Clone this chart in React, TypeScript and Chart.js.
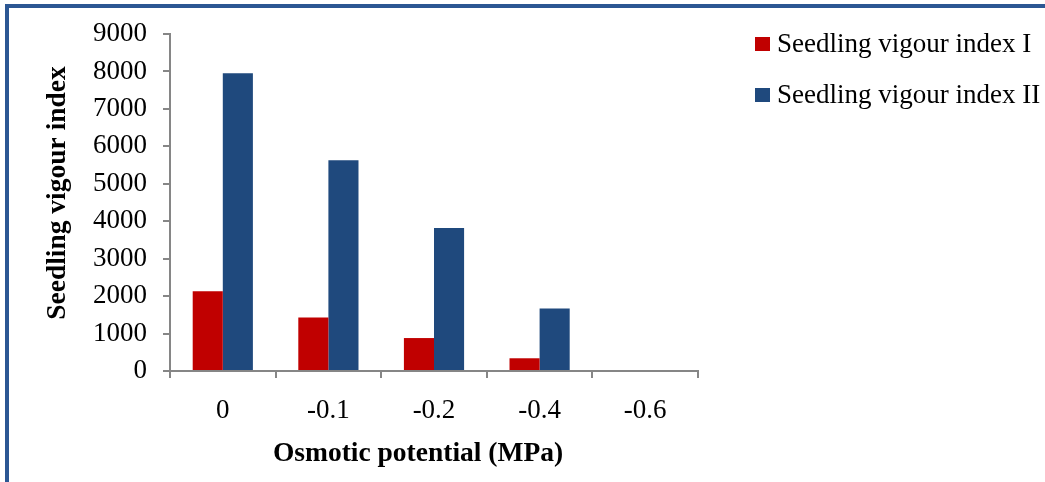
import React, { useEffect, useRef } from "react";
import { Chart, registerables } from "chart.js";

Chart.register(...registerables);

const categories = ["0", "-0.1", "-0.2", "-0.4", "-0.6"];
const seriesNames = ["Seedling vigour index I", "Seedling vigour index II"];
const vigourIndexI = [2130, 1430, 880, 340, 0];
const vigourIndexII = [7950, 5630, 3820, 1670, 0];
const yTicks = [0, 1000, 2000, 3000, 4000, 5000, 6000, 7000, 8000, 9000];
const xTitle = "Osmotic potential (MPa)";
const yTitle = "Seedling vigour index";

const RED = "#C00000";
const BLUE = "#1F497D";
const AXIS = "#868686";
const FONT = "'Liberation Serif', 'Times New Roman', serif";

const legendAndTitlesPlugin = {
  id: "sideLegendTitles",
  afterDraw(chart: any) {
    const ctx = chart.ctx;
    ctx.save();
    chart.data.datasets.forEach((ds: any, i: number) => {
      const cy = 44 + i * 51;
      ctx.fillStyle = ds.backgroundColor;
      ctx.fillRect(755, cy - 7, 15, 14);
      ctx.fillStyle = "#000";
      ctx.font = `27px ${FONT}`;
      ctx.textBaseline = "middle";
      ctx.textAlign = "left";
      ctx.fillText(ds.label, 777, cy + 1);
    });
    ctx.font = `bold 27.5px ${FONT}`;
    ctx.fillStyle = "#000";
    ctx.textAlign = "center";
    ctx.textBaseline = "middle";
    ctx.fillText(xTitle, 418, 454);
    ctx.translate(58, 193);
    ctx.rotate(-Math.PI / 2);
    ctx.fillText(yTitle, 0, 0);
    ctx.restore();
  },
};

export default function App() {
  const ref = useRef<HTMLCanvasElement>(null);
  useEffect(() => {
    if (!ref.current) return;
    const chart = new Chart(ref.current, {
      type: "bar",
      data: {
        labels: categories,
        datasets: [
          { label: seriesNames[0], data: vigourIndexI, backgroundColor: RED },
          { label: seriesNames[1], data: vigourIndexII, backgroundColor: BLUE },
        ],
      },
      plugins: [legendAndTitlesPlugin],
      options: {
        responsive: false,
        animation: false,
        devicePixelRatio: 1,
        layout: { padding: { left: 0, top: 34, right: 347, bottom: 0 } },
        datasets: { bar: { categoryPercentage: 0.57, barPercentage: 1.0 } },
        plugins: { legend: { display: false }, tooltip: { enabled: false } },
        scales: {
          x: {
            afterFit: (s: any) => { s.height = 111; },
            grid: { offset: true, drawOnChartArea: false, drawTicks: true, tickLength: 7, color: AXIS, lineWidth: 2 },
            border: { display: true, color: AXIS, width: 2 },
            ticks: { color: "#000", font: { family: FONT, size: 27 }, padding: 17 },
          },
          y: {
            min: 0,
            max: 9000,
            afterFit: (s: any) => { s.width = 170; },
            afterBuildTicks: (s: any) => { s.ticks = yTicks.map((v) => ({ value: v })); },
            grid: { drawOnChartArea: false, drawTicks: true, tickLength: 7, color: AXIS, lineWidth: 2 },
            border: { display: true, color: AXIS, width: 2 },
            ticks: { color: "#000", font: { family: FONT, size: 27 }, padding: 16, callback: (v: any) => String(v) },
          },
        },
      },
    });
    return () => chart.destroy();
  }, []);

  return (
    <div style={{ position: "absolute", left: 0, top: 0, width: 1045, height: 482, background: "#fff", overflow: "hidden" }}>
      <div style={{ position: "absolute", left: 5, top: 4, width: 1100, height: 520, borderLeft: "4px solid #2C5793", borderTop: "4px solid #2C5793", boxSizing: "border-box" }} />
      <canvas ref={ref} width={1045} height={482} style={{ position: "absolute", left: 0, top: 0 }} />
    </div>
  );
}
